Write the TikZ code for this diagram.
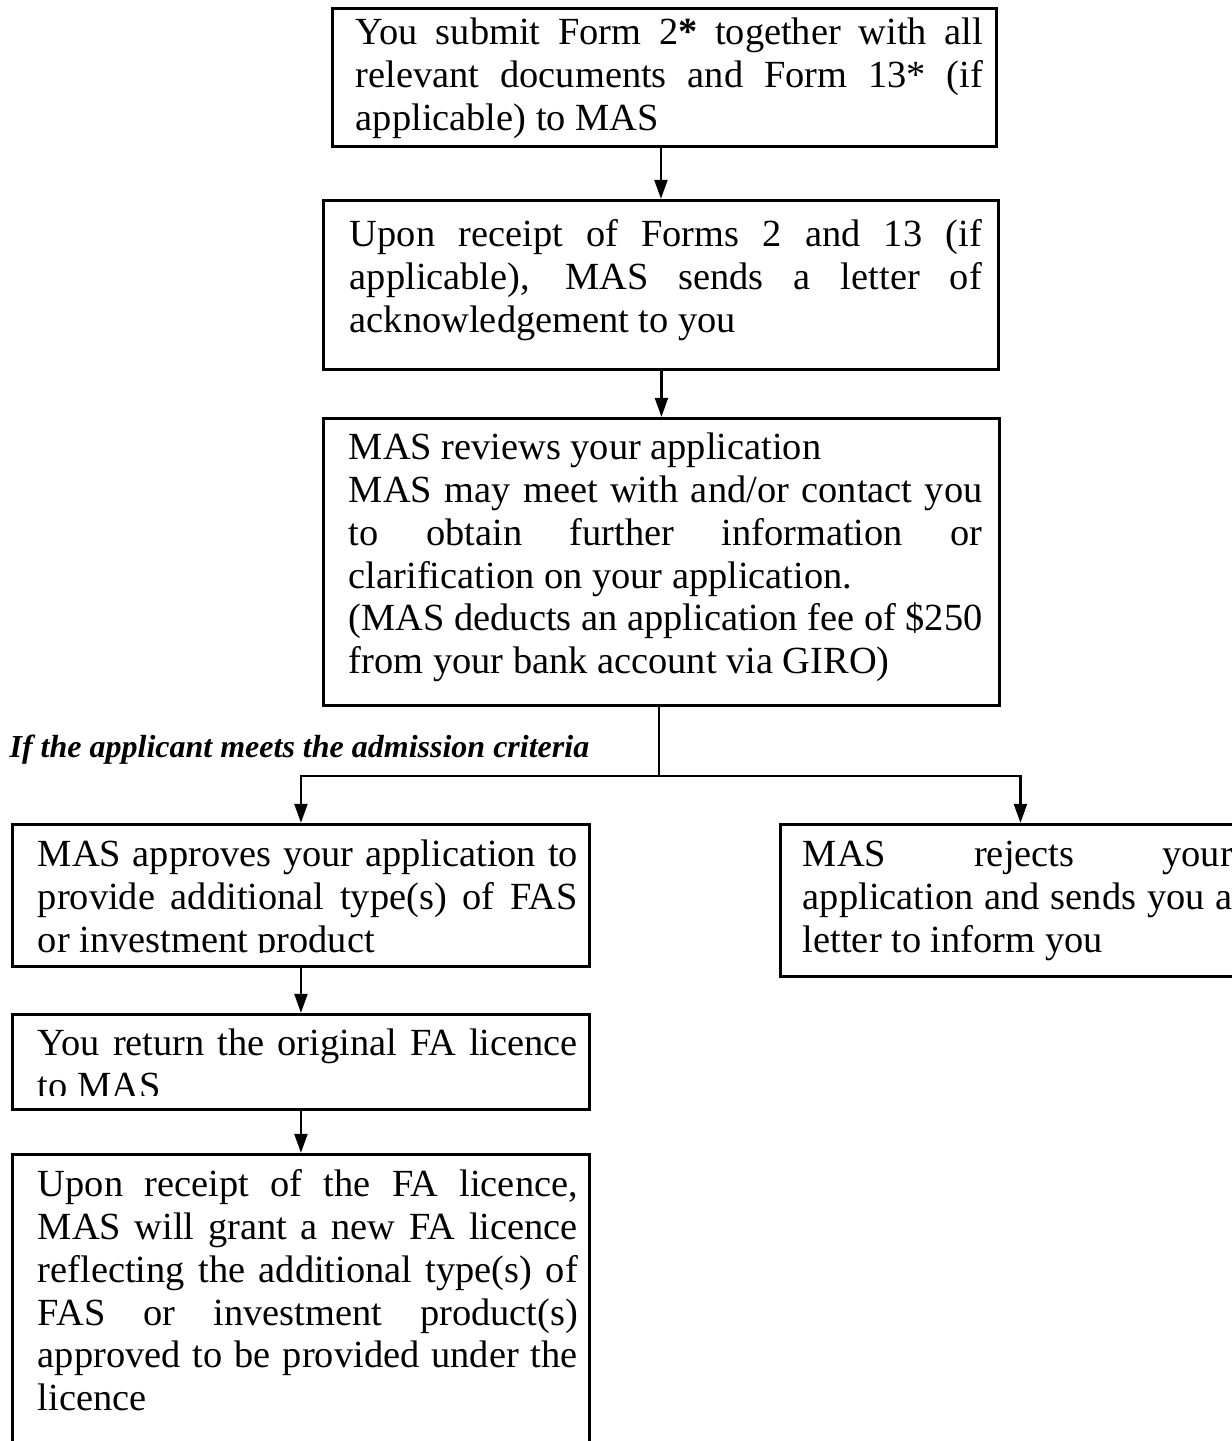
\documentclass[tikz,border=0pt]{standalone}
\usepackage{fontspec}
\setmainfont{Liberation Serif}
\usetikzlibrary{arrows.meta}

\begin{document}
\begin{tikzpicture}[
		x=0.3125pt, y=-0.3125pt,
		flowbox/.style 2 args={draw, line width=0.9pt, anchor=north west, inner sep=0pt, minimum width=#1*0.3125pt, minimum height=#2*0.3125pt},
		steptext/.style={draw=none, minimum width=0pt, minimum height=0pt, anchor=base west, inner sep=0pt, align=justify, text width=#1, font=\fontsize{12}{13.4}\selectfont},
		link/.style={line width=0.9pt, -{Triangle[length=6pt, width=4pt]}}
		]
		\useasboundingbox (0, 0) rectangle (1232, 1441);
		\node (submit) at (331, 7) [flowbox={664}{138}, path picture={
			\node [steptext=196pt] at ([shift={(22, 36)}] path picture bounding box.north west)
				{You submit Form 2\textbf{*} together with all\linebreak relevant documents and Form 13* (if\linebreak applicable) to MAS};}] {};
		\node (receipt) at (322, 199) [flowbox={675}{169}, path picture={
			\node [steptext=197.5pt] at ([shift={(25, 46)}] path picture bounding box.north west)
				{Upon receipt of Forms 2 and 13 (if\linebreak applicable), MAS sends a letter of\linebreak acknowledgement to you};}] {};
		\node (review) at (322, 417) [flowbox={676}{287}, path picture={
			\node [steptext=198pt] at ([shift={(24, 41)}] path picture bounding box.north west)
				{MAS reviews your application\\ MAS may meet with and/or contact you\linebreak to obtain further information or\linebreak clarification on your application.\\ (MAS deducts an application fee of \$250\linebreak from your bank account via GIRO)};}] {};
		\node (criteria) at (9, 757) [anchor=base west, inner sep=0pt, font=\fontsize{10}{12}\selectfont\bfseries\itshape] {If the applicant meets the admission criteria};
		\node (approve) at (11, 823) [flowbox={577}{142}, path picture={
			\clip (path picture bounding box.north west) rectangle ([shift={(0, -14)}] path picture bounding box.south east);
			\node [steptext=168.75pt] at ([shift={(24, 42)}] path picture bounding box.north west)
				{MAS approves your application to\linebreak provide additional type(s) of FAS\linebreak or investment product};}] {};
		\node (reject) at (779, 823) [flowbox={480}{152}, path picture={
			\node [steptext=134.4pt] at ([shift={(21, 42)}] path picture bounding box.north west)
				{MAS rejects your\linebreak application and sends you a\linebreak letter to inform you};}] {};
		\node (returnlic) at (11, 1013) [flowbox={577}{95}, path picture={
			\clip (path picture bounding box.north west) rectangle ([shift={(0, -14)}] path picture bounding box.south east);
			\node [steptext=168.75pt] at ([shift={(24, 41)}] path picture bounding box.north west)
				{You return the original FA licence\linebreak to MAS};}] {};
		\node (grant) at (11, 1153) [flowbox={577}{300}, path picture={
			\node [steptext=168.75pt] at ([shift={(24, 42)}] path picture bounding box.north west)
				{Upon receipt of the FA licence,\linebreak MAS will grant a new FA licence\linebreak reflecting the additional type(s) of\linebreak FAS or investment product(s)\linebreak approved to be provided under the\linebreak licence};}] {};
		\coordinate (split) at (659, 776);
		\draw [link] (receipt.north |- submit.south) -- (receipt.north);
		\draw [link] (review.north |- receipt.south) -- (review.north);
		\draw [line width=0.9pt] (split |- review.south) -- (split);
		\draw [link] (split) -| (approve.north);
		\draw [link] (split) -| (reject.north);
		\draw [link] (approve.south) -- (returnlic.north);
		\draw [link] (returnlic.south) -- (grant.north);
	\end{tikzpicture}
\end{document}
